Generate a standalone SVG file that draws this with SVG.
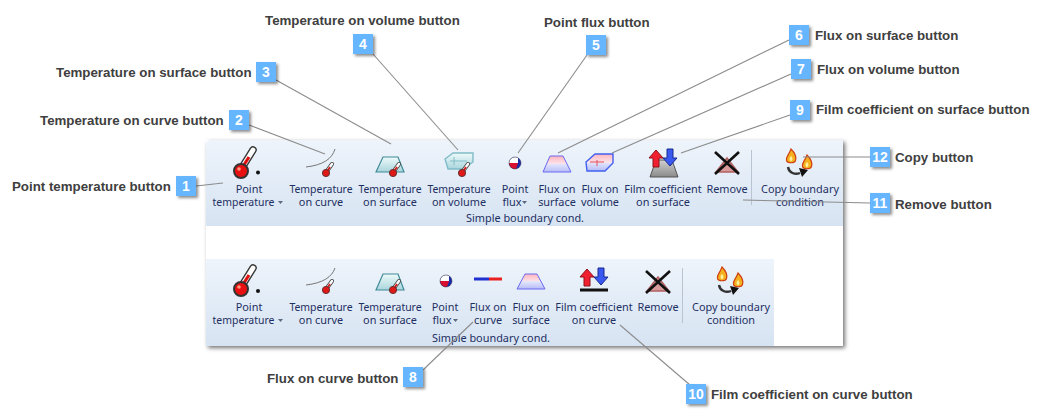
<svg xmlns="http://www.w3.org/2000/svg" width="1044" height="418" viewBox="0 0 1044 418">
<style>
.l{font:bold 13.3px "Liberation Sans",Arial,sans-serif;fill:#404040}
.n{font:bold 14px "Liberation Sans",Arial,sans-serif;fill:#fff;text-anchor:middle}
.r{font:10.9px "Noto Sans","Open Sans",sans-serif;fill:#1e2f62;text-anchor:middle}
.t{font-size:10.45px}
.b{fill:#66b5ff;filter:url(#s)}
.c{stroke:#8c8c8c;stroke-width:1.1;fill:none}
.e{fill:#5a6a80}
</style>
<defs>
<filter id="s" x="-30%" y="-30%" width="170%" height="170%"><feDropShadow dx="2" dy="2" stdDeviation="1.5" flood-color="#000" flood-opacity=".45"/></filter>
<filter id="p" x="-3%" y="-5%" width="106%" height="110%"><feDropShadow dx="2" dy="2" stdDeviation="2" flood-color="#000" flood-opacity=".55"/></filter>
<linearGradient id="g" x1="0" y1="0" x2="0" y2="1"><stop offset="0" stop-color="#eef4fb"/><stop offset="1" stop-color="#d6e3f2"/></linearGradient>
<linearGradient id="tr" x1="0" y1="0" x2="0" y2="1"><stop offset="0" stop-color="#eefafa"/><stop offset="1" stop-color="#a9d5dc"/></linearGradient>
<linearGradient id="fx" x1="0" y1="0" x2="0" y2="1"><stop offset="0" stop-color="#ffb4be"/><stop offset=".5" stop-color="#fbe4ea"/><stop offset=".5" stop-color="#e4e6fb"/><stop offset="1" stop-color="#b5bcf8"/></linearGradient>
<linearGradient id="gr" x1="0" y1="0" x2="0" y2="1"><stop offset="0" stop-color="#d0d0d0"/><stop offset="1" stop-color="#8a8a8a"/></linearGradient>
<clipPath id="bc"><circle r="6"/></clipPath>
<g id="ball"><circle r="6" fill="#1a2aa8"/><g clip-path="url(#bc)"><path d="M-6 0H3L1 6H-6Z" fill="#d81030"/><path d="M-6 -6H3V0H-6Z" fill="#fff"/></g><circle r="6" fill="none" stroke="#334" stroke-width=".5"/></g>
<g id="big"><path d="M-1 -2L9 -18" stroke="#333" stroke-width="7.500" stroke-linecap="round"/><path d="M-1 -2L9 -18" stroke="#fff" stroke-width="4.800" stroke-linecap="round"/><path d="M-2 0L5 -11" stroke="#e01010" stroke-width="3.200"/><circle cx="-3" cy="3" r="7" fill="#e81010" stroke="#333" stroke-width="2"/><circle cx="-5" cy="1" r="1.800" fill="#ff9a80"/></g>
<g id="sm"><path d="M1 -2L6 -9" stroke="#444" stroke-width="4" stroke-linecap="round"/><path d="M1 -2L6 -9" stroke="#fff" stroke-width="2.400" stroke-linecap="round"/><path d="M0 0L4 -6" stroke="#d81818" stroke-width="1.800"/><circle cx="0" cy="0" r="3.600" fill="#e01818" stroke="#633" stroke-width="1"/></g>
<g id="flame"><path d="M0 -8C4.500 -3.500 5.500 0 4.500 3.500C3.500 6.500 -3.500 6.500 -4.500 3.500C-5.500 0 -2.500 -1 0 -8Z" fill="#f5b020" stroke="#d04010" stroke-width="1.200"/><path d="M0 -1C2 1 2 3 0 4.500C-2 3 -2 1 0 -1Z" fill="#fff0a0"/></g>
<g id="copy"><use href="#flame" x="-10" y="-8"/><use href="#flame" x="6" y="-2"/><path d="M-13 2C-12 8 -6 10 -1 8" stroke="#333" stroke-width="2.400" fill="none"/><path d="M-2 3L7 5L1 12Z" fill="#111"/></g>
<g id="rm"><path d="M-11 9L0 -5L11 9Z" fill="#d89a9a" stroke="#b06060" stroke-width="1.500"/><path d="M-12 -11L12 11M12 -11L-12 11" stroke="#111" stroke-width="2.600"/></g>
<g id="up"><path d="M0 -9L7 -1H3V8H-3V-1H-7Z" fill="#f02030" stroke="#901018"/></g>
<g id="dn"><path d="M0 8L7 0H3V-9H-3V0H-7Z" fill="#3858f0" stroke="#182890"/></g>
</defs>

<g id="panel">
<rect x="206" y="140" width="637" height="206" fill="#fff" filter="url(#p)"/>
<path d="M206 226V145Q206 140 211 140H843V226Z" fill="url(#g)"/>
<rect x="206" y="259" width="568" height="87" fill="url(#g)"/>
<rect x="751" y="150" width="1" height="55" fill="#b9c4d2"/>
<rect x="682" y="268" width="1" height="55" fill="#b9c4d2"/>
</g>

<g id="ribbon-top">
<use href="#big" x="244" y="168"/><circle cx="258" cy="172.500" r="2" fill="#111"/>
<path d="M306 167C323 165 332 159 335 149" stroke="#777" fill="none"/><use href="#sm" x="326" y="173"/>
<path d="M376 172L383 157H398L404 172Z" fill="url(#tr)" stroke="#3e8a98" stroke-width="1.200"/><use href="#sm" x="393" y="173"/>
<path d="M445 159L453 153H473V162L463 169H448Z" fill="url(#tr)" stroke="#80bcc8" stroke-width="1.400"/><path d="M454 157V165M450 161H467" stroke="#80bcc8"/><use href="#sm" x="462" y="173"/>
<use href="#ball" x="515" y="163"/>
<path d="M543 172L550 156H563L571 172Z" fill="url(#fx)" stroke="#6a6af0"/>
<path d="M586 162L595 154H613V163L605 171H587Z" fill="url(#fx)" stroke="#4060f0" stroke-width="1.400"/><path d="M597 160V166M590 162H604" stroke="#e05060"/>
<path d="M650 177L656 160H672L678 177Z" fill="url(#gr)" stroke="#555"/><use href="#up" x="656" y="159"/><use href="#dn" x="670" y="158"/>
<use href="#rm" x="727" y="163"/>
<use href="#copy" x="801" y="165"/>
<text class="r" x="249" y="193">Point</text><text class="r t" x="243.500" y="206">temperature</text><path class="e" d="M278 201h5l-2.500 3z"/>
<text class="r t" x="321" y="193">Temperature</text><text class="r" x="321" y="206">on curve</text>
<text class="r t" x="390" y="193">Temperature</text><text class="r" x="390" y="206">on surface</text>
<text class="r t" x="459" y="193">Temperature</text><text class="r" x="459" y="206">on volume</text>
<text class="r" x="515" y="193">Point</text><text class="r" x="512" y="206">flux</text><path class="e" d="M522 201h5l-2.500 3z"/>
<text class="r" x="557" y="193">Flux on</text><text class="r" x="557" y="206">surface</text>
<text class="r" x="600" y="193">Flux on</text><text class="r" x="600" y="206">volume</text>
<text class="r" x="663" y="193">Film coefficient</text><text class="r" x="663" y="206">on surface</text>
<text class="r" x="727" y="193">Remove</text>
<text class="r" x="800" y="193">Copy boundary</text><text class="r" x="800" y="206">condition</text>
<text class="r" x="525" y="222">Simple boundary cond.</text>
</g>

<g id="ribbon-bottom">
<use href="#big" x="244" y="286"/><circle cx="258" cy="291" r="2" fill="#111"/>
<path d="M306 285C323 283 332 277 335 268" stroke="#777" fill="none"/><use href="#sm" x="326" y="290"/>
<path d="M376 290L383 274H398L404 290Z" fill="url(#tr)" stroke="#3e8a98" stroke-width="1.200"/><use href="#sm" x="393" y="290"/>
<use href="#ball" x="446" y="281"/>
<path d="M474 279H489" stroke="#2030d0" stroke-width="3"/><path d="M489 279H502" stroke="#e82020" stroke-width="3"/>
<path d="M517 289L525 274H537L545 289Z" fill="url(#fx)" stroke="#6a6af0"/>
<use href="#up" x="587" y="278"/><use href="#dn" x="601" y="277"/><rect x="580" y="288.500" width="28" height="3" fill="#111"/>
<use href="#rm" x="658" y="282"/>
<use href="#copy" x="732" y="283"/>
<text class="r" x="249" y="311">Point</text><text class="r t" x="243.500" y="324">temperature</text><path class="e" d="M278 319h5l-2.500 3z"/>
<text class="r t" x="321" y="311">Temperature</text><text class="r" x="321" y="324">on curve</text>
<text class="r t" x="390" y="311">Temperature</text><text class="r" x="390" y="324">on surface</text>
<text class="r" x="445" y="311">Point</text><text class="r" x="442" y="324">flux</text><path class="e" d="M453 319h5l-2.500 3z"/>
<text class="r" x="488" y="311">Flux on</text><text class="r" x="488" y="324">curve</text>
<text class="r" x="531" y="311">Flux on</text><text class="r" x="531" y="324">surface</text>
<text class="r" x="594" y="311">Film coefficient</text><text class="r" x="594" y="324">on curve</text>
<text class="r" x="658" y="311">Remove</text>
<text class="r" x="731" y="311">Copy boundary</text><text class="r" x="731" y="324">condition</text>
<text class="r" x="491" y="342">Simple boundary cond.</text>
</g>

<g id="connectors">
<path class="c" d="M196 186L223 183"/><path class="c" d="M249 125L325 154"/><path class="c" d="M276 80L391 144"/><path class="c" d="M373 54L458 150"/><path class="c" d="M587 55L518 153"/><path class="c" d="M789 40L558 153"/><path class="c" d="M791 74L612 153"/><path class="c" d="M790 115L681 153"/><path class="c" d="M870 157L803 157"/><path class="c" d="M870 203L743 200"/><path class="c" d="M423 370L473 322"/><path class="c" d="M690 385L620 325"/>
</g>

<g id="n1"><rect class="b" x="176" y="176" width="20" height="20"/><text class="n" x="186" y="191">1</text><text class="l" x="12" y="191">Point temperature button</text></g>
<g id="n2"><rect class="b" x="229" y="110" width="20" height="20"/><text class="n" x="239" y="125">2</text><text class="l" x="40" y="125">Temperature on curve button</text></g>
<g id="n3"><rect class="b" x="256" y="62" width="20" height="20"/><text class="n" x="266" y="77">3</text><text class="l" x="56" y="77">Temperature on surface button</text></g>
<g id="n4"><rect class="b" x="353" y="34" width="20" height="20"/><text class="n" x="363" y="49">4</text><text class="l" x="265" y="25">Temperature on volume button</text></g>
<g id="n5"><rect class="b" x="586" y="35" width="20" height="20"/><text class="n" x="596" y="50">5</text><text class="l" x="544" y="27">Point flux button</text></g>
<g id="n6"><rect class="b" x="789" y="25" width="20" height="20"/><text class="n" x="799" y="40">6</text><text class="l" x="815" y="40">Flux on surface button</text></g>
<g id="n7"><rect class="b" x="791" y="59" width="20" height="20"/><text class="n" x="801" y="74">7</text><text class="l" x="817" y="74">Flux on volume button</text></g>
<g id="n8"><rect class="b" x="403" y="367" width="20" height="20"/><text class="n" x="413" y="382">8</text><text class="l" x="267" y="383">Flux on curve button</text></g>
<g id="n9"><rect class="b" x="790" y="100" width="20" height="20"/><text class="n" x="800" y="115">9</text><text class="l" x="816" y="114">Film coefficient on surface button</text></g>
<g id="n10"><rect class="b" x="686" y="384" width="20" height="20"/><text class="n" x="696" y="399">10</text><text class="l" x="711" y="399">Film coefficient on curve button</text></g>
<g id="n11"><rect class="b" x="870" y="193" width="20" height="20"/><text class="n" x="880" y="208">11</text><text class="l" x="895" y="209">Remove button</text></g>
<g id="n12"><rect class="b" x="870" y="147" width="20" height="20"/><text class="n" x="880" y="162">12</text><text class="l" x="895" y="162">Copy button</text></g>
</svg>
